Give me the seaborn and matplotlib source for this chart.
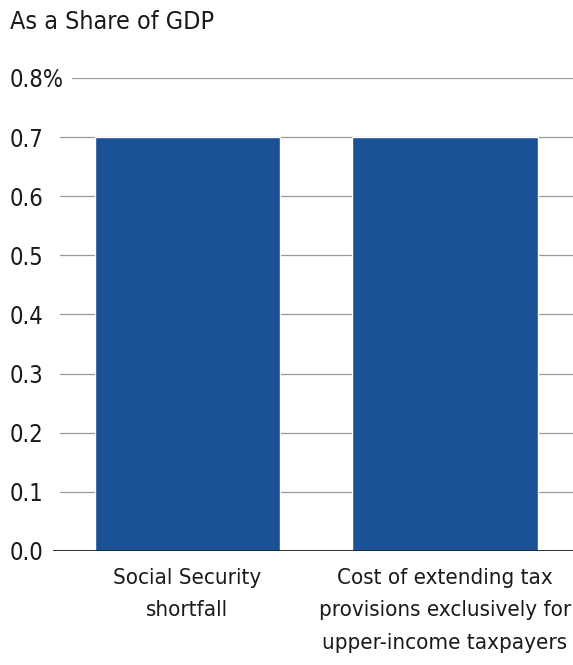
import matplotlib
matplotlib.use("Agg")
import matplotlib.pyplot as plt
import seaborn as sns
import pandas as pd

categories = ["Social Security\nshortfall",
              "Cost of extending tax\nprovisions exclusively for\nupper-income taxpayers"]
values = [0.7, 0.7]
yticks = [0.0, 0.1, 0.2, 0.3, 0.4, 0.5, 0.6, 0.7, 0.8]
ytick_labels = ["0.0", "0.1", "0.2", "0.3", "0.4", "0.5", "0.6", "0.7", "0.8%"]
title = "As a Share of GDP"

sns.set_style("white")
plt.rcParams['font.family'] = ['DejaVu Sans']
plt.rcParams['font.stretch'] = 'condensed'

W, H = 573, 665
fig = plt.figure(figsize=(W / 100, H / 100), dpi=100)
ax_left = 53 / W
ax_bottom = 1 - 551 / H
ax_top = 1 - 78 / H
ax = fig.add_axes([ax_left, ax_bottom, 1 - ax_left, ax_top - ax_bottom])

df = pd.DataFrame({"cat": categories, "val": values})
sns.barplot(data=df, x="cat", y="val", color="#1B5296", width=0.72, ax=ax,
            saturation=1, zorder=3)

ax.set_xlim(-0.522, 1.497)
ax.set_ylim(0, 0.8)
for s in ax.spines.values():
    s.set_visible(False)

for t in yticks:
    if t == 0:
        ax.axhline(t, color="#222222", lw=1.3, zorder=4)
    elif t == 0.8:
        ax.axhline(t, xmin=(72 - 53) / (W - 53), color="#999999", lw=0.9, zorder=1)
    else:
        ax.axhline(t, xmin=(60 - 53) / (W - 53), color="#999999", lw=0.9, zorder=1)

ax.set_yticks(yticks)
ax.set_yticklabels(ytick_labels, fontsize=17, color="#1a1a1a", ha="left")
ax.tick_params(axis="y", length=0, pad=(53 - 10) * 0.72)
ax.tick_params(axis="x", length=0, pad=12)
ax.set_xticks([0, 1])
ax.set_xticklabels(categories, fontsize=16, color="#1a1a1a", linespacing=1.8)
ax.set_xlabel("")
ax.set_ylabel("")

fig.text(10 / W, 1 - 10 / H, title, fontsize=18, color="#1a1a1a", va="top", ha="left")

fig.savefig("out.png", dpi=100, facecolor="white")
